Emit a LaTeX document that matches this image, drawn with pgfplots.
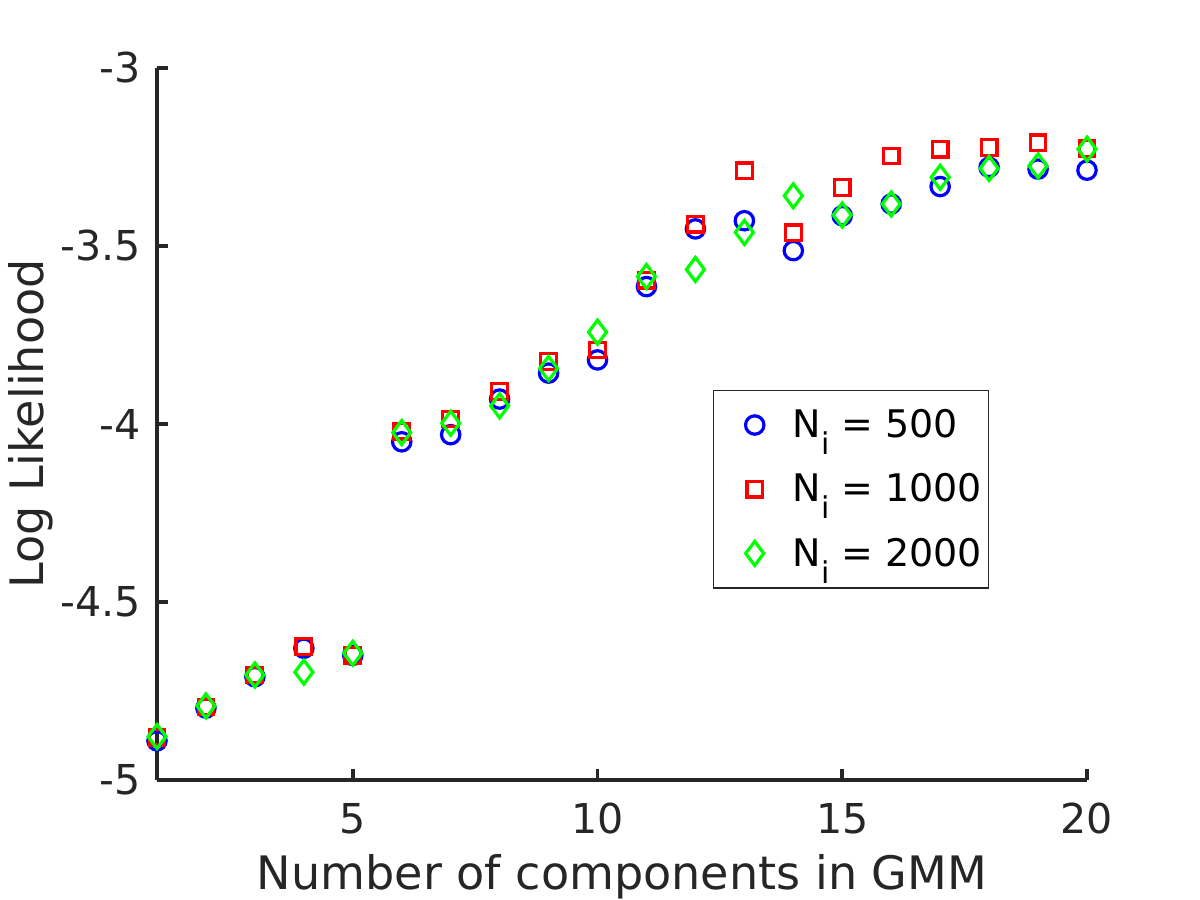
\documentclass[border=0pt]{standalone}
\usepackage{pgfplots}
\pgfplotsset{compat=1.18}
\usepackage{fontspec}
\setmainfont{DejaVu Sans}
\definecolor{axgray}{HTML}{262626}
\definecolor{mblue}{RGB}{0,0,255}
\definecolor{mred}{RGB}{255,0,0}
\definecolor{mgreen}{RGB}{0,255,0}
\pgfplotsset{myleg/.style={legend image code/.code={\path[mark repeat=2, mark phase=2, ##1] plot coordinates {(0pt,0pt) (17.5pt,0pt) (35pt,0pt)};}}}
\begin{document}
\begin{tikzpicture}
\begin{axis}[
  at={(0,0)}, anchor=south west,
  scale only axis, width=465pt, height=356pt,
  xmin=1, xmax=20, ymin=-5, ymax=-3,
  axis lines*=left,
  axis line style={-, line width=1.8pt, color=axgray},
  every tick/.style={line width=1.8pt, color=axgray},
  major tick length=5.3pt,
  tick align=inside,
  xtick={5,10,15,20}, xticklabels={5,10,15,20},
  ytick={-5,-4.5,-4,-3.5,-3}, yticklabels={-5,-4.5,-4,-3.5,-3},
  ticklabel style={font=\fontsize{20.6}{24}\selectfont, color=axgray, inner sep=0pt},
  xticklabel style={anchor=north, yshift=-11.5pt},
  yticklabel style={anchor=east, xshift=-8pt},
  xlabel={Number of components in GMM},
  ylabel={Log Likelihood},
  label style={font=\fontsize{23.05}{26}\selectfont, color=axgray, inner sep=0pt},
  xlabel style={at={(axis description cs:0.5,-0.1531)}, anchor=base},
  ylabel style={at={(axis description cs:-0.1215,0.5)}, anchor=base, rotate=0},
  clip=false,
  legend style={
    at={(0.598,0.548)}, anchor=north west,
    draw=axgray, line width=0.6pt, fill=white,
    inner xsep=3pt, inner ysep=7.5pt,
    font=\fontsize{19}{21}\selectfont,
    nodes={inner xsep=0pt},
    row sep=12.5pt,
    /tikz/every odd column/.append style={column sep=1.5pt},
    legend cell align=left,
  },
]
\addplot[draw=none, myleg, mark=o, mark size=4.6pt, mark options={line width=1.6pt, draw=mblue}] coordinates {
(1,-4.890) (2,-4.798) (3,-4.710) (4,-4.630) (5,-4.650)
(6,-4.050) (7,-4.030) (8,-3.930) (9,-3.857) (10,-3.820)
(11,-3.614) (12,-3.452) (13,-3.429) (14,-3.513) (15,-3.415)
(16,-3.382) (17,-3.333) (18,-3.279) (19,-3.284) (20,-3.287)};
\addlegendentry{N\raisebox{-8.5pt}{\fontsize{15}{15}\selectfont i} = 500}
\addplot[draw=none, myleg, mark=square, mark size=3.9pt, mark options={line width=1.6pt, draw=mred}] coordinates {
(1,-4.880) (2,-4.795) (3,-4.705) (4,-4.625) (5,-4.650)
(6,-4.020) (7,-3.986) (8,-3.909) (9,-3.825) (10,-3.792)
(11,-3.596) (12,-3.439) (13,-3.289) (14,-3.463) (15,-3.336)
(16,-3.247) (17,-3.228) (18,-3.223) (19,-3.210) (20,-3.226)};
\addlegendentry{N\raisebox{-8.5pt}{\fontsize{15}{15}\selectfont i} = 1000}
\addplot[draw=none, myleg, mark=diamond, mark size=6pt, mark options={line width=1.6pt, draw=mgreen}] coordinates {
(1,-4.878) (2,-4.792) (3,-4.705) (4,-4.697) (5,-4.644)
(6,-4.024) (7,-3.998) (8,-3.949) (9,-3.844) (10,-3.742)
(11,-3.586) (12,-3.566) (13,-3.462) (14,-3.359) (15,-3.413)
(16,-3.382) (17,-3.307) (18,-3.282) (19,-3.275) (20,-3.228)};
\addlegendentry{N\raisebox{-8.5pt}{\fontsize{15}{15}\selectfont i} = 2000}
\end{axis}
\useasboundingbox (-78.5pt,-60pt) rectangle (521.5pt,390pt);
\end{tikzpicture}
\end{document}
